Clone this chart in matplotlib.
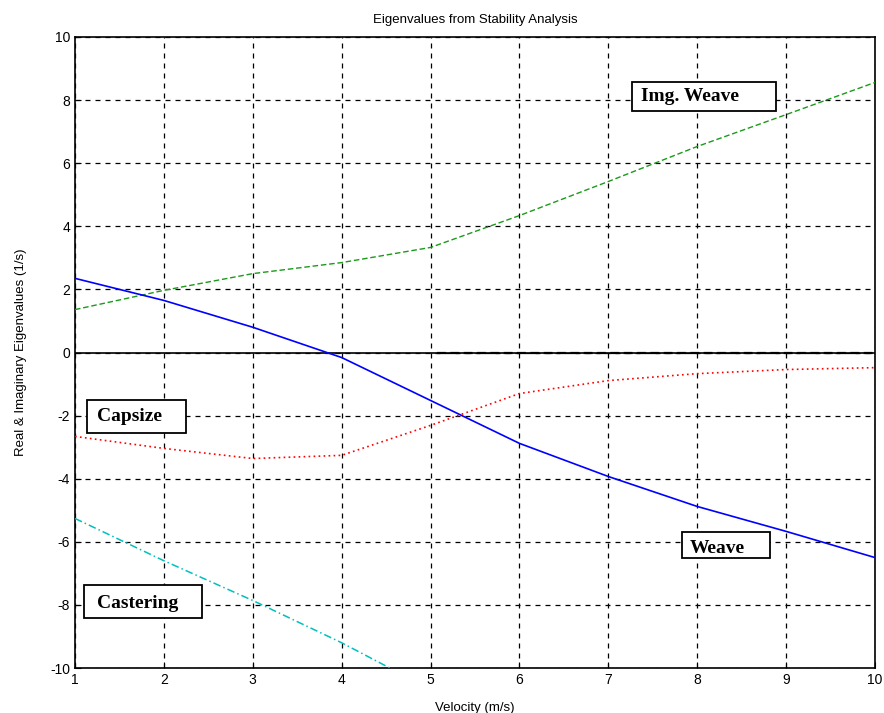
import matplotlib
matplotlib.use("Agg")
import matplotlib.pyplot as plt
from matplotlib.patches import Rectangle

plt.rcParams["axes.unicode_minus"] = False

velocity = [1, 2, 3, 4, 5, 6, 7, 8, 9, 10]
img_weave = [1.36, 1.97, 2.50, 2.85, 3.33, 4.34, 5.42, 6.53, 7.54, 8.56]
weave = [2.35, 1.65, 0.80, -0.16, -1.52, -2.88, -3.93, -4.88, -5.67, -6.50]
capsize = [-2.66, -3.04, -3.36, -3.26, -2.31, -1.30, -0.89, -0.67, -0.54, -0.48]
castering = [-5.26, -6.60, -7.86, -9.20, -10.68, -12.1, -13.5, -14.9, -16.3, -17.7]
zero_x = [5.07, 6, 7, 8, 9, 10]
zero_imag = [0, 0, 0, 0, 0, 0]
xticks = list(range(1, 11))
yticks = list(range(-10, 11, 2))

labels = ["Img. Weave", "Capsize", "Castering", "Weave"]
label_boxes = [(7.27, 7.65, 1.62, 0.92), (1.135, -2.55, 1.115, 1.05),
               (1.10, -8.42, 1.33, 1.05), (7.83, -6.51, 0.99, 0.82)]
label_text = [(7.37, 8.1), (1.25, -2.02), (1.25, -7.97), (7.92, -6.2)]

fig = plt.figure(figsize=(8.84, 7.13), dpi=100)
ax = fig.add_axes([75/884, 45/713, 800/884, 631/713])

ax.axhline(0, color="black", lw=1.2, zorder=2)
ax.plot(zero_x, zero_imag, color="black", lw=1.6, ls=(0, (4, 2)), zorder=3)
ax.plot(velocity, img_weave, color="#1a9a1a", lw=1.0, ls=(0, (4, 2)), zorder=3)
ax.plot(velocity, weave, color="#0000ff", lw=1.2, zorder=3)
ax.plot(velocity, capsize, color="#ff0000", lw=1.2, ls=(0, (1, 2)), zorder=3)
ax.plot(velocity, castering, color="#00bfbf", lw=1.1, ls=(0, (5, 2, 1, 2)), zorder=3)

ax.set_xlim(1, 10)
ax.set_ylim(-10, 10)
ax.set_xticks(xticks)
ax.set_yticks(yticks)
ax.grid(True, color="black", ls=(0, (4, 4)), lw=0.9)
ax.tick_params(direction="in", length=4, labelsize=10)
for lab in ax.get_xticklabels() + ax.get_yticklabels():
    lab.set_fontfamily("Liberation Sans")
for s in ax.spines.values():
    s.set_linewidth(1.2)

ax.set_title("Eigenvalues from Stability Analysis", fontsize=9.5,
             family="Liberation Sans", pad=10)
ax.set_xlabel("Velocity (m/s)", fontsize=9.5, family="Liberation Sans", labelpad=11)
ax.set_ylabel("Real & Imaginary Eigenvalues (1/s)", fontsize=9.5,
              family="Liberation Sans", labelpad=17)

for lab, (bx, by, bw, bh), (tx, ty) in zip(labels, label_boxes, label_text):
    ax.add_patch(Rectangle((bx, by), bw, bh, facecolor="white", edgecolor="black",
                           lw=1.3, zorder=5))
    ax.text(tx, ty, lab, fontsize=14, fontweight="bold", family="Liberation Serif",
            va="center", ha="left", zorder=6)

fig.savefig("out.png", dpi=100)
